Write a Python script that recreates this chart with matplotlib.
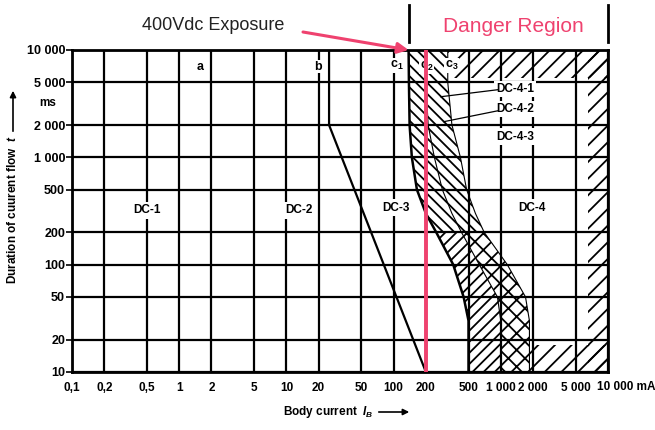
import matplotlib.pyplot as plt
import numpy as np

plt.rcParams['font.family'] = ['Liberation Sans', 'DejaVu Sans']
plt.rcParams['hatch.linewidth'] = 1.3
plt.rcParams['mathtext.fontset'] = 'custom'
plt.rcParams['mathtext.rm'] = 'Liberation Sans:bold'
plt.rcParams['mathtext.it'] = 'Liberation Sans:italic:bold'
plt.rcParams['mathtext.default'] = 'regular'

PINK = '#ef426f'

# axis ticks
x_ticks = [0.1, 0.2, 0.5, 1, 2, 5, 10, 20, 50, 100, 200, 500, 1000, 2000, 5000, 10000]
x_labels = ['0,1', '0,2', '0,5', '1', '2', '5', '10', '20', '50', '100', '200',
            '500', '1 000', '2 000', '5 000', '']
x_last_label = '10 000 mA'
y_ticks = [10, 20, 50, 100, 200, 500, 1000, 2000, 5000, 10000]
y_labels = ['10', '20', '50', '100', '200', '500', '1 000', '2 000', '5 000', '10 000']

# curve b (mA, ms)
b_current = [25, 25, 200]
b_time = [10000, 2000, 10]

# curves c1, c2, c3 sampled at the same durations (ms)
c_time = np.array([10000, 5000, 2000, 1000, 500, 300, 200, 100, 50, 30, 20, 10])
c1_current = np.array([138, 139, 141, 148, 165, 200, 250, 360, 450, 500, 500, 500])
c2_current = np.array([200, 200, 210, 240, 285, 350, 430, 630, 930, 1000, 1000, 1000])
c3_current = np.array([320, 320, 350, 420, 480, 580, 700, 1150, 1700, 1850, 1850, 1850])

exposure_current = 200   # mA at 400 Vdc

fig = plt.figure(figsize=(6.55, 4.3), dpi=100)
ax = fig.add_axes([72 / 655, 58 / 430, 536 / 655, 322 / 430])
ax.set_xscale('log')
ax.set_yscale('log')
ax.set_xlim(0.1, 10000)
ax.set_ylim(10, 10000)
ax.set_xticks(x_ticks, x_labels)
ax.set_yticks(y_ticks, y_labels)
ax.minorticks_off()
ax.set_axisbelow(True)
ax.grid(True, color='black', lw=1.6)
for s in ax.spines.values():
    s.set_linewidth(2)
ax.tick_params(axis='x', length=0, pad=7, labelsize=8.5)
ax.tick_params(axis='y', length=4, width=1.2, pad=1, labelsize=9)
for lbl in ax.get_xticklabels() + ax.get_yticklabels():
    lbl.set_fontweight('bold')
ax.annotate(x_last_label, xy=(1, 0), xycoords='axes fraction', xytext=(-11, -15),
            textcoords='offset pixels', ha='left', va='center',
            fontsize=8.5, fontweight='bold', annotation_clip=False)

# hatched zones
up = c_time >= 200
lo = c_time <= 200
kw = dict(facecolor='none', edgecolor='black', linewidth=0)
ax.fill_betweenx(c_time, c1_current, c2_current, where=up, hatch='\\\\\\', **kw)
ax.fill_betweenx(c_time, c1_current, c2_current, where=lo, hatch='///', **kw)
ax.fill_betweenx(c_time, c2_current, c3_current, where=up, hatch='\\\\\\', **kw)
ax.fill_betweenx(c_time, c2_current, c3_current, where=lo, hatch='xx', **kw)
ax.fill_betweenx([5500, 10000], c3_current[0], 10000, hatch='//', **kw)
ax.fill_betweenx([10, 10000], 6500, 10000, hatch='//', **kw)
ax.fill_betweenx([10, 18], c3_current[-1], 10000, hatch='//', **kw)

# curves
ax.plot(b_current, b_time, color='black', lw=1.6)
ax.plot(c1_current, c_time, color='black', lw=1.8)
ax.plot(c2_current, c_time, color='black', lw=0.8)
ax.plot(c3_current, c_time, color='black', lw=0.8)

# region labels
lab = dict(fontsize=8.5, fontweight='bold', ha='center', va='center',
           bbox=dict(facecolor='white', edgecolor='none', pad=1.5))
ax.text(0.5, 320, 'DC-1', **lab)
ax.text(13, 320, 'DC-2', **lab)
ax.text(105, 340, 'DC-3', **lab)
ax.text(1950, 340, 'DC-4', **lab)
ax.text(1350, 4300, 'DC-4-1', **lab)
ax.text(1350, 2800, 'DC-4-2', **lab)
ax.text(1350, 1560, 'DC-4-3', **lab)
ax.annotate('', xy=(258, 3640), xytext=(1000, 4300),
            arrowprops=dict(arrowstyle='-', color='black', lw=0.9))
ax.annotate('', xy=(275, 2120), xytext=(1000, 2750),
            arrowprops=dict(arrowstyle='-', color='black', lw=0.9))

small = dict(fontsize=9, fontweight='bold', ha='center', va='center',
             bbox=dict(facecolor='white', edgecolor='none', pad=0.5))
ax.text(1.57, 7000, 'a', **small)
ax.text(19.9, 7000, 'b', **small)
ax.text(107, 7200, 'c$_1$', **small)
ax.text(203, 7000, 'c$_2$', **small)
ax.text(348, 7200, 'c$_3$', **small)

ax.text(-0.045, 0.835, 'ms', transform=ax.transAxes, fontsize=8.5,
        fontweight='bold', ha='center', va='center')

# axis titles
fig.text(13 / 655, 1 - 210 / 430, 'Duration of cuurent flow  $\\it{t}$',
         rotation=90, fontsize=8.5, fontweight='bold', ha='center', va='center')
fig.text(328 / 655, 1 - 412 / 430, 'Body current  $\\it{I}_{B}$',
         fontsize=8.5, fontweight='bold', ha='center', va='center')
ax.annotate('', xy=(13, 430 - 88), xycoords='figure pixels',
            xytext=(13, 430 - 134), textcoords='figure pixels',
            arrowprops=dict(arrowstyle='-|>', color='black', lw=1.2,
                            mutation_scale=9))
ax.annotate('', xy=(412, 430 - 412), xycoords='figure pixels',
            xytext=(376, 430 - 412), textcoords='figure pixels',
            arrowprops=dict(arrowstyle='-|>', color='black', lw=1.2,
                            mutation_scale=9))

# 400 Vdc exposure marker
ax.axvline(exposure_current, color=PINK, lw=2.8, zorder=5)
fig.text(213 / 655, 1 - 26 / 430, '400Vdc Exposure', fontsize=13,
         color='#222222', ha='center', va='center')
ax.annotate('', xy=(c1_current[0], 10000), xycoords='data',
            xytext=(303, 430 - 32), textcoords='figure pixels',
            arrowprops=dict(arrowstyle='-|>', color=PINK, lw=2.2,
                            mutation_scale=16, shrinkA=0, shrinkB=0),
            annotation_clip=False)

# danger region bracket
for xb in [c1_current[0], 10000]:
    ax.plot([xb, xb], [1.025, 1.14], color='black', lw=2,
            transform=ax.get_xaxis_transform(), clip_on=False)
fig.text(513 / 655, 1 - 27 / 430, 'Danger Region', fontsize=15,
         color=PINK, ha='center', va='center')

fig.savefig('out.png', dpi=100)
